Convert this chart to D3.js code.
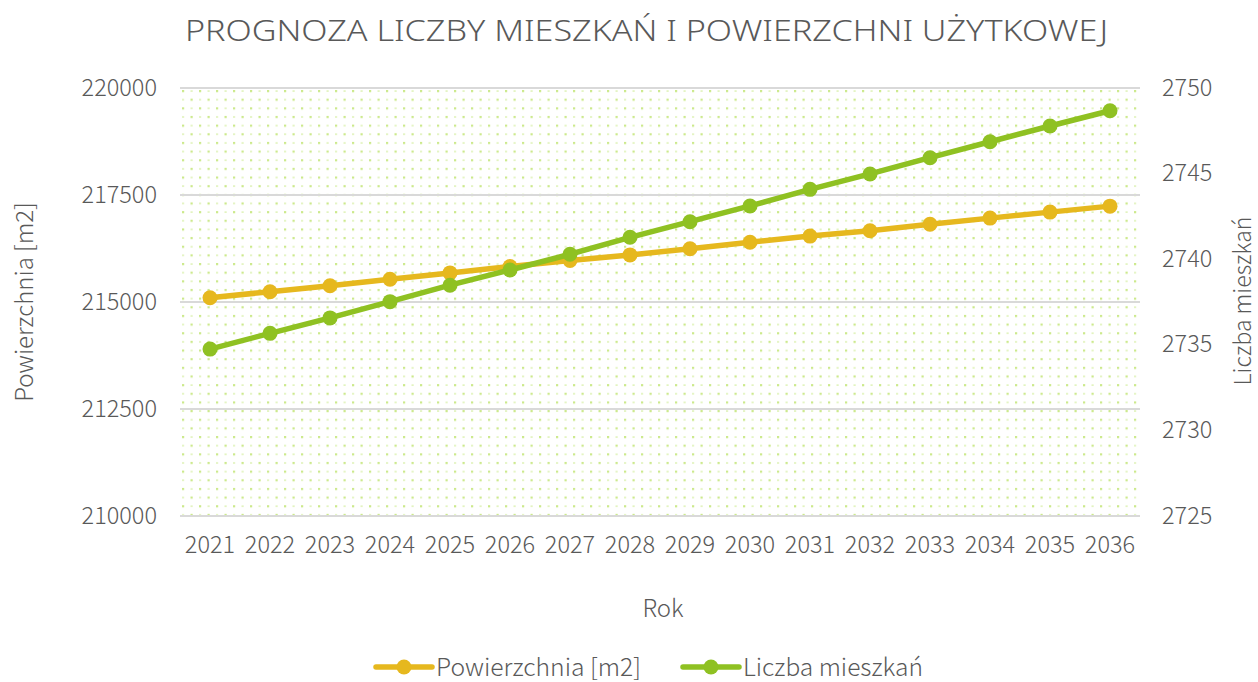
<!DOCTYPE html>
<html>
<head>
<meta charset="utf-8">
<script src="https://cdn.jsdelivr.net/npm/d3@7"></script>
<style>
  body { margin: 0; background: #fff; }
  text { font-family: "Noto Sans CJK JP", "Noto Sans", sans-serif; font-weight: 300; fill: #595959; }
</style>
</head>
<body>
<script>
const years = ["2021","2022","2023","2024","2025","2026","2027","2028","2029","2030","2031","2032","2033","2034","2035","2036"];
const powierzchnia = [215100, 215240, 215380, 215530, 215680, 215830, 215970, 216100, 216245, 216395, 216540, 216665, 216815, 216960, 217100, 217240];
const mieszkania = [2734.75, 2735.67, 2736.57, 2737.52, 2738.48, 2739.37, 2740.29, 2741.28, 2742.19, 2743.11, 2744.08, 2744.98, 2745.93, 2746.86, 2747.78, 2748.67];
const leftTicks = [210000, 212500, 215000, 217500, 220000];
const rightTicks = [2725, 2730, 2735, 2740, 2745, 2750];

const W = 1258, H = 682;
const plotLeft = 180, plotRight = 1140, plotTop = 88, plotBottom = 516;
const yellow = "#e6b81e", green = "#8fc122";

const svg = d3.select("body")
  .append("svg")
  .attr("width", W)
  .attr("height", H);

const x = d3.scaleBand().domain(years).range([plotLeft, plotRight]);
const yL = d3.scaleLinear().domain([210000, 220000]).range([plotBottom, plotTop]);
const yR = d3.scaleLinear().domain([2725, 2750]).range([plotBottom, plotTop]);

// dotted background pattern
const pat = svg.append("defs").append("pattern")
  .attr("id", "dots")
  .attr("patternUnits", "userSpaceOnUse")
  .attr("x", plotLeft + 2).attr("y", plotTop + 2)
  .attr("width", 17).attr("height", 17.3);
pat.append("rect").attr("x", 0).attr("y", 0).attr("width", 2.2).attr("height", 2.2).attr("fill", "#cce98c");
pat.append("rect").attr("x", 8.5).attr("y", 8.6).attr("width", 2.2).attr("height", 2.2).attr("fill", "#cce98c");
pat.append("rect").attr("x", 8.5).attr("y", 0.3).attr("width", 2.2).attr("height", 1.5).attr("fill", "#def2b6");
pat.append("rect").attr("x", 0).attr("y", 8.9).attr("width", 2.2).attr("height", 1.5).attr("fill", "#def2b6");

svg.append("rect")
  .attr("x", plotLeft).attr("y", plotTop)
  .attr("width", plotRight - plotLeft).attr("height", plotBottom - plotTop)
  .attr("fill", "url(#dots)");

// grid
svg.append("g")
  .selectAll("line")
  .data(leftTicks)
  .join("line")
  .attr("x1", plotLeft).attr("x2", plotRight)
  .attr("y1", d => yL(d)).attr("y2", d => yL(d))
  .attr("stroke", "#d9d9d9")
  .attr("stroke-width", 2);

// left axis
const axL = svg.append("g")
  .attr("transform", `translate(${plotLeft},0)`)
  .call(d3.axisLeft(yL).tickValues(leftTicks).tickSize(0).tickPadding(23).tickFormat(d3.format("d")));
axL.select(".domain").remove();
axL.selectAll("text").style("font-size", "23.5px").attr("dy", "0.3em");

// right axis
const axR = svg.append("g")
  .attr("transform", `translate(${plotRight},0)`)
  .call(d3.axisRight(yR).tickValues(rightTicks).tickSize(0).tickPadding(22).tickFormat(d3.format("d")));
axR.select(".domain").remove();
axR.selectAll("text").style("font-size", "23.5px").attr("dy", "0.3em");

// bottom axis
const axB = svg.append("g")
  .attr("transform", `translate(0,${plotBottom})`)
  .call(d3.axisBottom(x).tickSize(0).tickPadding(20));
axB.select(".domain").remove();
axB.selectAll("text").style("font-size", "23.5px");

// series
const lineL = d3.line().x((d, i) => x(years[i]) + x.bandwidth() / 2).y(d => yL(d));
const lineR = d3.line().x((d, i) => x(years[i]) + x.bandwidth() / 2).y(d => yR(d));

svg.append("path")
  .datum(powierzchnia)
  .attr("d", lineL)
  .attr("fill", "none")
  .attr("stroke", yellow)
  .attr("stroke-width", 5.5)
  .attr("stroke-linejoin", "round");
svg.append("g")
  .selectAll("circle")
  .data(powierzchnia)
  .join("circle")
  .attr("cx", (d, i) => x(years[i]) + x.bandwidth() / 2)
  .attr("cy", d => yL(d))
  .attr("r", 7.5)
  .attr("fill", yellow);

svg.append("path")
  .datum(mieszkania)
  .attr("d", lineR)
  .attr("fill", "none")
  .attr("stroke", green)
  .attr("stroke-width", 5.5)
  .attr("stroke-linejoin", "round");
svg.append("g")
  .selectAll("circle")
  .data(mieszkania)
  .join("circle")
  .attr("cx", (d, i) => x(years[i]) + x.bandwidth() / 2)
  .attr("cy", d => yR(d))
  .attr("r", 7.5)
  .attr("fill", green);

// titles
svg.append("text")
  .attr("x", 185).attr("y", 41)
  .attr("textLength", 923)
  .attr("lengthAdjust", "spacingAndGlyphs")
  .style("font-family", "'Noto Sans', sans-serif")
  .style("font-size", "29px")
  .text("PROGNOZA LICZBY MIESZKAŃ I POWIERZCHNI UŻYTKOWEJ");

svg.append("text")
  .attr("x", 663).attr("y", 617)
  .attr("text-anchor", "middle")
  .style("font-size", "24px")
  .text("Rok");

svg.append("text")
  .attr("transform", "translate(33,302) rotate(-90)")
  .attr("text-anchor", "middle")
  .style("font-size", "24px")
  .text("Powierzchnia [m2]");

svg.append("text")
  .attr("transform", "translate(1251,301) rotate(-90)")
  .attr("text-anchor", "middle")
  .style("font-size", "23px")
  .text("Liczba mieszkań");

// legend
const legend = [
  { name: "Powierzchnia [m2]", color: yellow, x: 376, w: 205 },
  { name: "Liczba mieszkań", color: green, x: 683, w: 180 }
];
const lg = svg.append("g").selectAll("g").data(legend).join("g")
  .attr("transform", d => `translate(${d.x},667)`);
lg.append("line")
  .attr("x1", 0).attr("x2", 56).attr("y1", 0).attr("y2", 0)
  .attr("stroke", d => d.color).attr("stroke-width", 5.5).attr("stroke-linecap", "round");
lg.append("circle").attr("cx", 28).attr("cy", 0).attr("r", 7.5).attr("fill", d => d.color);
lg.append("text")
  .attr("x", 60).attr("y", 0).attr("dy", "0.35em")
  .attr("textLength", d => d.w)
  .attr("lengthAdjust", "spacingAndGlyphs")
  .style("font-size", "24.5px")
  .text(d => d.name);
</script>
</body>
</html>
